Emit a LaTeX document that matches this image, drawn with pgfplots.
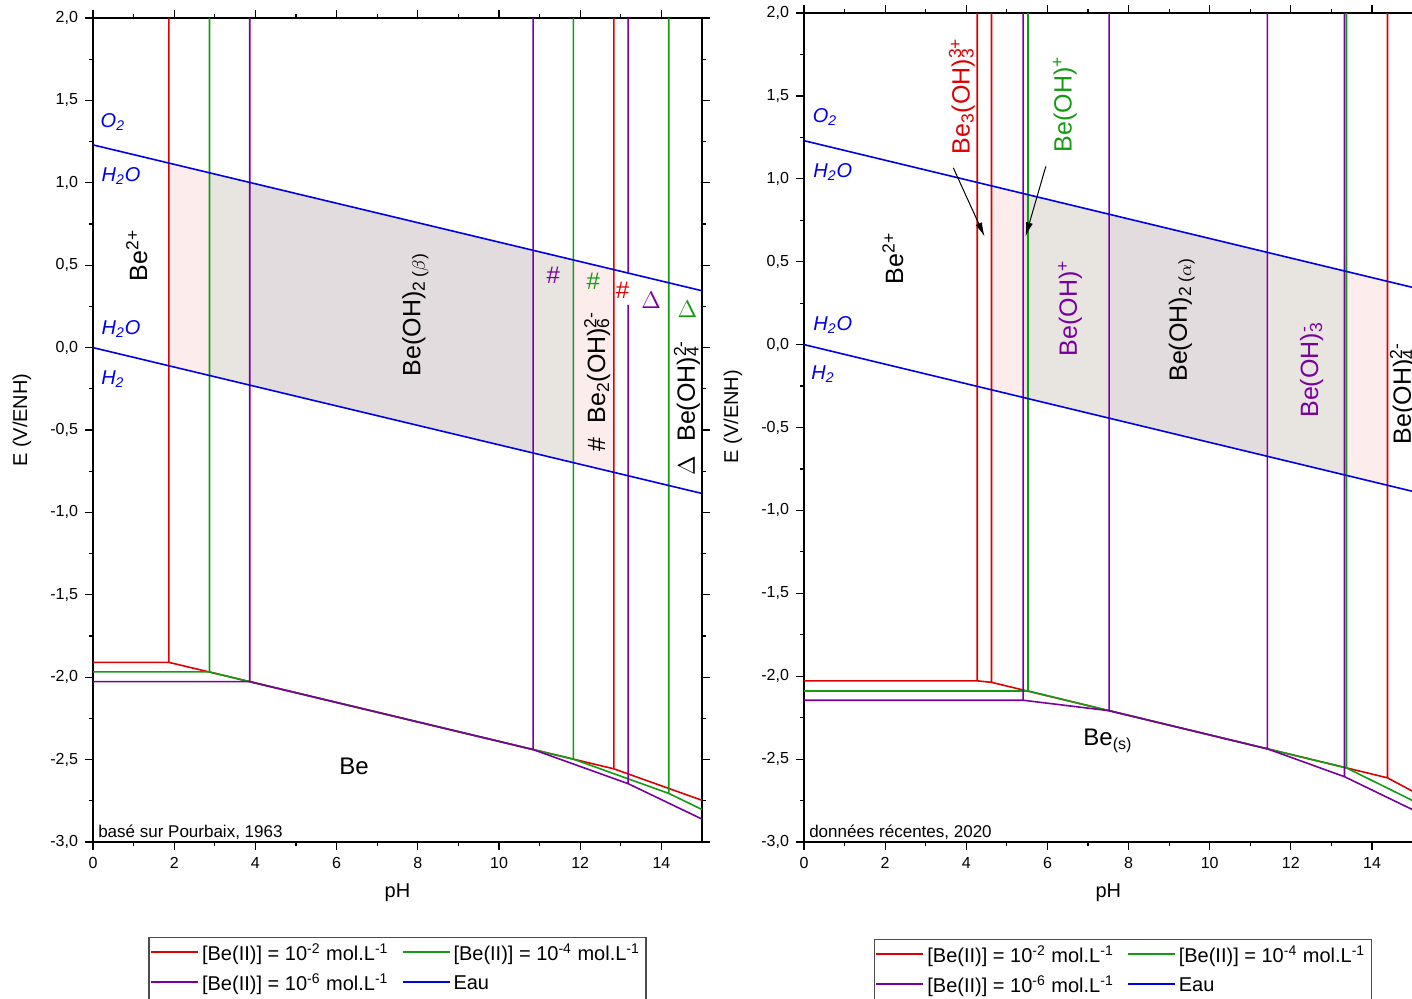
\documentclass[border=0pt]{standalone}
\usepackage{pgfplots}
\pgfplotsset{compat=1.18}
\usepackage{fontspec}
\setmainfont{Liberation Sans}
\usetikzlibrary{arrows.meta}

\definecolor{cred}{RGB}{220,0,0}
\definecolor{cgreen}{RGB}{20,155,20}
\definecolor{cpurple}{RGB}{120,0,160}
\definecolor{cblue}{RGB}{0,0,230}
\definecolor{fpink}{RGB}{252,236,236}
\definecolor{fgray}{RGB}{232,229,224}
\definecolor{fmauve}{RGB}{227,220,223}

\tikzset{
  wlab/.style={cblue, font=\fontsize{10}{12}\selectfont\itshape},
  big/.style={font=\fontsize{12.5}{14}\selectfont, rotate=90},
}

\pgfplotsset{
  limg/.style={draw=#1, line width=0.8pt,
    legend image code/.code={\node[inner sep=0pt, anchor=west] at (0pt,0pt) {\textcolor{#1}{\rule{23.5pt}{0.8pt}}};}},
  pourbaix/.style={
    scale only axis,
    xmin=0, xmax=15, ymin=-3, ymax=2,
    xtick={0,2,...,14}, minor x tick num=1,
    ytick={-3,-2.5,...,2}, minor y tick num=1,
    tick align=outside,
    major tick length=4pt, minor tick length=2pt,
    tick style={black, line width=0.6pt},
    axis line style={line width=0.7pt},
    tick label style={font=\fontsize{8}{9}\selectfont},
    /pgf/number format/assume math mode=true,
    yticklabel style={/pgf/number format/.cd, fixed, fixed zerofill, precision=1, use comma},
    xticklabel style={/pgf/number format/.cd, fixed, precision=0},
    xlabel={pH}, ylabel={E (V/ENH)},
    label style={font=\fontsize{9.5}{11}\selectfont},
    every axis x label/.style={at={(axis description cs:0.5,0)}, yshift=-25.5pt, anchor=center},
    every axis y label/.style={at={(axis description cs:0,0.512)}, xshift=-35.5pt, rotate=90, anchor=center},
    clip=false,
    unbounded coords=jump,
    legend columns=2,
    legend cell align=left,
    legend style={font=\fontsize{10}{12}\selectfont, draw=black!70, line width=0.6pt,
      inner xsep=1pt, inner ysep=1pt, row sep=1pt,
      /tikz/every even column/.append style={column sep=5pt}},
  },
}

\begin{document}
\begin{tikzpicture}
\useasboundingbox (0,0) rectangle (706pt,499pt);

% ================= LEFT: Pourbaix 1963 =================
\begin{axis}[pourbaix, at={(46.5pt,78pt)}, anchor=south west,
  width=304.5pt, height=412pt,
  legend style={at={(axis description cs:0.5,0)}, anchor=north, yshift=-47.5pt}]
\addplot[fill=fpink, draw=none, forget plot] coordinates {(1.87,1.120) (2.87,1.061) (2.87,-0.169) (1.87,-0.110)};
\addplot[fill=fgray, draw=none, forget plot] coordinates {(2.87,1.061) (3.86,1.002) (3.86,-0.228) (2.87,-0.169)};
\addplot[fill=fmauve, draw=none, forget plot] coordinates {(3.86,1.002) (10.84,0.590) (10.84,-0.640) (3.86,-0.228)};
\addplot[fill=fgray, draw=none, forget plot] coordinates {(10.84,0.590) (11.83,0.532) (11.83,-0.698) (10.84,-0.640)};
\addplot[fill=fpink, draw=none, forget plot] coordinates {(11.83,0.532) (12.83,0.473) (12.83,-0.757) (11.83,-0.698)};
\addplot[limg=cred] coordinates {
  (0,-1.910) (1.87,-1.910) (1.87,2)
  (nan,nan)
  (1.87,-1.910) (3.86,-2.027) (10.84,-2.439) (11.83,-2.497) (12.83,-2.556) (12.83,2)
  (nan,nan)
  (12.83,-2.556) (15,-2.747)};
\addlegendentry{[Be(II)] = 10\textsuperscript{-2} mol.L\textsuperscript{-1}}
\addplot[limg=cgreen] coordinates {
  (0,-1.968) (2.87,-1.968) (2.87,2)
  (nan,nan)
  (2.87,-1.968) (3.86,-2.027) (10.84,-2.439) (11.83,-2.497) (11.83,2)
  (nan,nan)
  (11.83,-2.497) (14.18,-2.705) (14.18,2)
  (nan,nan)
  (14.18,-2.705) (15,-2.803)};
\addlegendentry{[Be(II)] = 10\textsuperscript{-4} mol.L\textsuperscript{-1}}
\addplot[limg=cpurple] coordinates {
  (0,-2.027) (3.86,-2.027) (3.86,2)
  (nan,nan)
  (3.86,-2.027) (10.84,-2.439) (10.84,2)
  (nan,nan)
  (10.84,-2.439) (13.18,-2.646) (13.18,0.26)
  (nan,nan)
  (13.18,0.455) (13.18,2)
  (nan,nan)
  (13.18,-2.646) (15,-2.861)};
\addlegendentry{[Be(II)] = 10\textsuperscript{-6} mol.L\textsuperscript{-1}}
\addplot[limg=cblue] coordinates {(0,1.23) (15,0.345) (nan,nan) (0,0) (15,-0.885)};
\addlegendentry{Eau}

\node[wlab] at (axis cs:0.49,1.37) {O\textsubscript{2}};
\node[wlab] at (axis cs:0.69,1.04) {H\textsubscript{2}O};
\node[wlab] at (axis cs:0.69,0.11) {H\textsubscript{2}O};
\node[wlab] at (axis cs:0.49,-0.19) {H\textsubscript{2}};
\node[big] at (axis cs:1.08,0.56) {Be\textsuperscript{2+}};
\node[big] at (axis cs:7.94,0.20) {Be(OH)\textsubscript{2 ($\beta$)}};
\node[cpurple, font=\fontsize{12}{14}\selectfont] at (axis cs:11.34,0.44) {\#};
\node[cgreen, font=\fontsize{12}{14}\selectfont] at (axis cs:12.32,0.40) {\#};
\node[cred, font=\fontsize{12}{14}\selectfont] at (axis cs:13.04,0.35) {\#};
\node[cpurple, font=\fontsize{12}{14}\selectfont] at (axis cs:13.75,0.29) {$\Delta$};
\node[cgreen, font=\fontsize{12}{14}\selectfont] at (axis cs:14.64,0.23) {$\Delta$};
\node[big] at (axis cs:12.42,-0.21) {\# \ Be\textsubscript{2}(OH)\rlap{\textsuperscript{2-}}\textsubscript{6}\,};
\node[big] at (axis cs:14.63,-0.37) {$\Delta$ \ Be(OH)\rlap{\textsuperscript{2-}}\textsubscript{4}\,};
\node[font=\fontsize{12}{14}\selectfont] at (axis cs:6.43,-2.54) {Be};
\node[anchor=base west, inner sep=0pt, font=\fontsize{8.5}{10}\selectfont] at (axis cs:0.12,-3) [yshift=2.5pt] {basé sur Pourbaix, 1963};
\end{axis}

% ================= RIGHT: 2020 data =================
\begin{axis}[pourbaix, at={(402pt,78pt)}, anchor=south west,
  width=304.3pt, height=414.5pt,
  every axis y label/.style={at={(axis description cs:0,0.513)}, xshift=-35.5pt, rotate=90, anchor=center},
  legend style={at={(axis description cs:0.5,0)}, anchor=north, yshift=-48.5pt, xshift=7.25pt}]
\addplot[fill=fpink, draw=none, forget plot] coordinates {(4.62,0.957) (5.40,0.911) (5.40,-0.319) (4.62,-0.273)};
\addplot[fill=fgray, draw=none, forget plot] coordinates {(5.40,0.911) (7.52,0.786) (7.52,-0.444) (5.40,-0.319)};
\addplot[fill=fmauve, draw=none, forget plot] coordinates {(7.52,0.786) (11.42,0.556) (11.42,-0.674) (7.52,-0.444)};
\addplot[fill=fgray, draw=none, forget plot] coordinates {(11.42,0.556) (13.35,0.442) (13.35,-0.788) (11.42,-0.674)};
\addplot[fill=fpink, draw=none, forget plot] coordinates {(13.35,0.442) (14.38,0.382) (14.38,-0.848) (13.35,-0.788)};
\addplot[limg=cred] coordinates {
  (0,-2.028) (4.27,-2.028) (4.27,2)
  (nan,nan)
  (4.27,-2.028) (4.62,-2.037) (4.62,2)
  (nan,nan)
  (4.62,-2.037) (5.50,-2.089) (7.52,-2.208) (11.42,-2.438) (13.37,-2.553) (14.38,-2.613) (14.38,2)
  (nan,nan)
  (14.38,-2.613) (15,-2.694)};
\addlegendentry{[Be(II)] = 10\textsuperscript{-2} mol.L\textsuperscript{-1}}
\addplot[limg=cgreen] coordinates {
  (0,-2.089) (5.52,-2.089) (5.52,2)
  (nan,nan)
  (5.52,-2.089) (7.52,-2.208) (11.42,-2.438) (13.37,-2.553) (13.37,2)
  (nan,nan)
  (13.37,-2.553) (15,-2.750)};
\addlegendentry{[Be(II)] = 10\textsuperscript{-4} mol.L\textsuperscript{-1}}
\addplot[limg=cpurple] coordinates {
  (0,-2.145) (5.40,-2.145) (5.40,2)
  (nan,nan)
  (5.40,-2.145) (7.52,-2.208) (7.52,2)
  (nan,nan)
  (7.52,-2.208) (11.42,-2.438) (11.42,2)
  (nan,nan)
  (11.42,-2.438) (13.32,-2.606) (13.32,2)
  (nan,nan)
  (13.32,-2.606) (15,-2.805)};
\addlegendentry{[Be(II)] = 10\textsuperscript{-6} mol.L\textsuperscript{-1}}
\addplot[limg=cblue] coordinates {(0,1.23) (15,0.345) (nan,nan) (0,0) (15,-0.885)};
\addlegendentry{Eau}

\node[wlab] at (axis cs:0.52,1.37) {O\textsubscript{2}};
\node[wlab] at (axis cs:0.71,1.04) {H\textsubscript{2}O};
\node[wlab] at (axis cs:0.71,0.12) {H\textsubscript{2}O};
\node[wlab] at (axis cs:0.47,-0.18) {H\textsubscript{2}};
\node[big] at (axis cs:2.19,0.52) {Be\textsuperscript{2+}};
\node[big, cred] at (axis cs:3.89,1.48) {Be\textsubscript{3}(OH)\rlap{\textsuperscript{3+}}\textsubscript{3}\,};
\node[big, cgreen] at (axis cs:6.43,1.45) {Be(OH)\textsuperscript{+}};
\draw[-{Latex[length=7pt,width=3.5pt]}, line width=0.5pt] (axis cs:3.68,1.066) -- (axis cs:4.45,0.652);
\draw[-{Latex[length=7pt,width=3.5pt]}, line width=0.5pt] (axis cs:5.96,1.075) -- (axis cs:5.46,0.653);
\node[big, cpurple] at (axis cs:6.56,0.22) {Be(OH)\textsuperscript{+}};
\node[big] at (axis cs:9.31,0.15) {Be(OH)\textsubscript{2 ($\alpha$)}};
\node[big, cpurple] at (axis cs:12.51,-0.14) {Be(OH)\rlap{\textsuperscript{-}}\textsubscript{3}\,};
\node[big] at (axis cs:14.76,-0.30) {Be(OH)\rlap{\textsuperscript{2-}}\textsubscript{4}\,};
\node[font=\fontsize{12}{14}\selectfont] at (axis cs:7.49,-2.39) {Be\textsubscript{(s)}};
\node[anchor=base west, inner sep=0pt, font=\fontsize{8.5}{10}\selectfont] at (axis cs:0.12,-3) [yshift=2.5pt] {données récentes, 2020};
\end{axis}
\end{tikzpicture}
\end{document}
